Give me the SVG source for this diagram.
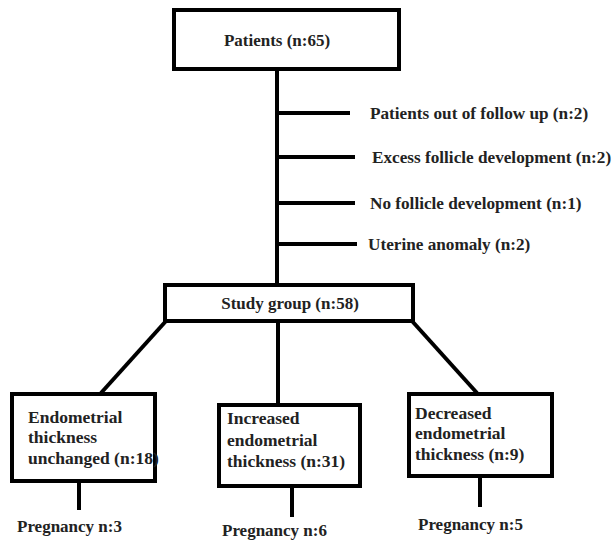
<svg xmlns="http://www.w3.org/2000/svg" width="615" height="540" viewBox="0 0 615 540">
<style>
.box{fill:#fff;stroke:#000;stroke-width:4}
.ln{stroke:#000;stroke-width:4;fill:none}
text{font-family:"Liberation Serif","Times New Roman",serif;font-weight:bold;font-size:17.5px;fill:#222}
.ex{font-size:17.2px}
.big{font-size:17px}
</style>
<rect width="615" height="540" fill="#fff"/>
<g id="connectors">
<line class="ln" x1="277" y1="69" x2="277" y2="285"/>
<line class="ln" x1="277" y1="113" x2="350" y2="113"/>
<line class="ln" x1="277" y1="157" x2="355" y2="157"/>
<line class="ln" x1="277" y1="203" x2="355" y2="203"/>
<line class="ln" x1="277" y1="244" x2="357" y2="244"/>
<line class="ln" x1="166" y1="321" x2="101" y2="393"/>
<line class="ln" x1="278" y1="321" x2="278" y2="404"/>
<line class="ln" x1="412" y1="321" x2="477" y2="393"/>
<line class="ln" x1="79" y1="483" x2="79" y2="510"/>
<line class="ln" x1="292" y1="488" x2="292" y2="517"/>
<line class="ln" x1="480" y1="478" x2="480" y2="507"/>
</g>
<g id="patients">
<rect class="box" x="174" y="10" width="225" height="59"/>
<text class="big" x="277" y="46" text-anchor="middle">Patients (n:65)</text>
</g>
<g id="excl1"><text class="ex" x="370" y="119">Patients out of follow up (n:2)</text></g>
<g id="excl2"><text class="ex" x="372" y="163">Excess follicle development (n:2)</text></g>
<g id="excl3"><text class="ex" x="370" y="209">No follicle development (n:1)</text></g>
<g id="excl4"><text class="ex" x="368" y="250">Uterine anomaly (n:2)</text></g>
<g id="study">
<rect class="box" x="165" y="285" width="248" height="36"/>
<text class="big" x="290" y="309" text-anchor="middle">Study group (n:58)</text>
</g>
<g id="unchanged">
<rect class="box" x="12" y="394" width="143" height="87"/>
<text x="28" y="423">Endometrial</text>
<text x="28" y="443">thickness</text>
<text x="28" y="464">unchanged (n:18)</text>
</g>
<g id="increased">
<rect class="box" x="219" y="405" width="141" height="81"/>
<text x="227" y="424">Increased</text>
<text x="227" y="446">endometrial</text>
<text x="227" y="467">thickness (n:31)</text>
</g>
<g id="decreased">
<rect class="box" x="409" y="394" width="143" height="82"/>
<text x="415" y="419">Decreased</text>
<text x="415" y="439">endometrial</text>
<text x="415" y="460">thickness (n:9)</text>
</g>
<g id="preg1"><text class="big" x="17" y="532">Pregnancy n:3</text></g>
<g id="preg2"><text class="big" x="222" y="536">Pregnancy n:6</text></g>
<g id="preg3"><text class="big" x="418" y="530">Pregnancy n:5</text></g>
</svg>
